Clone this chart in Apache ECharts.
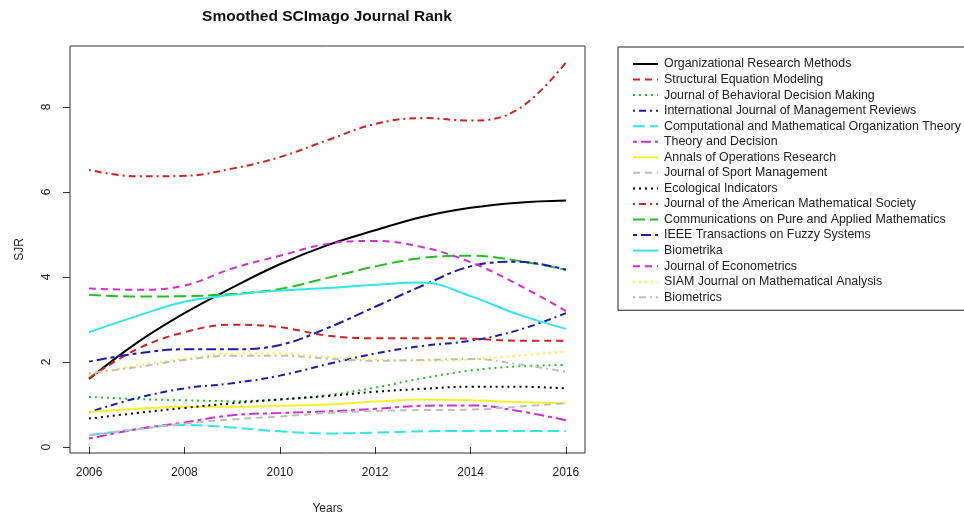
<!DOCTYPE html>
<html>
<head>
<meta charset="utf-8">
<script src="https://cdn.jsdelivr.net/npm/echarts@6/dist/echarts.min.js"></script>
<style>
html,body{margin:0;padding:0;background:#fff;}
#chart{width:964px;height:518px;}
</style>
</head>
<body>
<div id="chart"></div>
<script>
var years = [2006, 2007, 2008, 2009, 2010, 2011, 2012, 2013, 2014, 2015, 2016];
var yTicks = [0, 2, 4, 6, 8];
var xTicks = [2006, 2008, 2010, 2012, 2014, 2016];

var journalNames = [
  "Organizational Research Methods",
  "Structural Equation Modeling",
  "Journal of Behavioral Decision Making",
  "International Journal of Management Reviews",
  "Computational and Mathematical Organization Theory",
  "Theory and Decision",
  "Annals of Operations Research",
  "Journal of Sport Management",
  "Ecological Indicators",
  "Journal of the American Mathematical Society",
  "Communications on Pure and Applied Mathematics",
  "IEEE Transactions on Fuzzy Systems",
  "Biometrika",
  "Journal of Econometrics",
  "SIAM Journal on Mathematical Analysis",
  "Biometrics"
];

var orm      = [1.60, 2.45, 3.15, 3.75, 4.30, 4.75, 5.10, 5.42, 5.63, 5.75, 5.80];
var sem      = [1.62, 2.30, 2.70, 2.88, 2.82, 2.62, 2.56, 2.56, 2.55, 2.50, 2.50];
var jbdm     = [1.18, 1.13, 1.10, 1.08, 1.12, 1.22, 1.40, 1.62, 1.80, 1.90, 1.93];
var ijmr     = [0.82, 1.15, 1.38, 1.50, 1.68, 1.95, 2.20, 2.38, 2.50, 2.75, 3.15];
var cmot     = [0.28, 0.42, 0.52, 0.46, 0.37, 0.32, 0.34, 0.37, 0.38, 0.38, 0.38];
var td       = [0.20, 0.42, 0.58, 0.75, 0.80, 0.84, 0.90, 0.97, 0.98, 0.85, 0.63];
var aor      = [0.82, 0.90, 0.95, 0.95, 0.97, 1.00, 1.07, 1.12, 1.10, 1.06, 1.03];
var jsm      = [0.28, 0.42, 0.55, 0.65, 0.72, 0.80, 0.85, 0.87, 0.88, 0.95, 1.03];
var ecolInd  = [0.67, 0.80, 0.92, 1.03, 1.12, 1.20, 1.30, 1.37, 1.42, 1.42, 1.38];
var jams     = [6.52, 6.37, 6.38, 6.55, 6.82, 7.22, 7.60, 7.74, 7.68, 7.95, 9.05];
var cpam     = [3.58, 3.54, 3.55, 3.60, 3.72, 3.98, 4.25, 4.45, 4.50, 4.38, 4.17];
var ieee     = [2.01, 2.20, 2.30, 2.30, 2.40, 2.80, 3.30, 3.80, 4.25, 4.36, 4.17];
var biometrika = [2.70, 3.08, 3.42, 3.58, 3.68, 3.74, 3.82, 3.87, 3.55, 3.12, 2.78];
var econometrics = [3.73, 3.70, 3.80, 4.20, 4.50, 4.78, 4.85, 4.70, 4.35, 3.82, 3.20];
var siam     = [1.68, 1.92, 2.08, 2.20, 2.20, 2.12, 2.06, 2.03, 2.06, 2.15, 2.25];
var biometrics = [1.74, 1.88, 2.05, 2.15, 2.15, 2.08, 2.03, 2.05, 2.07, 1.95, 1.77];

var seriesValues = [orm, sem, jbdm, ijmr, cmot, td, aor, jsm, ecolInd, jams, cpam, ieee, biometrika, econometrics, siam, biometrics];

// R base palette and line types (cycled)
var palette = ['#000000', '#D42020', '#22C022', '#1A1AB4', '#30E6E6', '#D22FD2', '#F6F22A', '#BEBEBE'];
var ltySolid = 'solid';
var ltyDash = [7, 5];
var ltyDot = [2, 4];
var ltyDotDash = [2, 4, 7, 4];
var ltyLongDash = [12, 5];
var ltyTwoDash = [4, 4, 10, 4];
var ltys = [ltySolid, ltyDash, ltyDot, ltyDotDash, ltyLongDash, ltyTwoDash];

var series = journalNames.map(function (name, i) {
  var vals = seriesValues[i];
  return {
    name: name,
    type: 'line',
    smooth: 0.4,
    symbol: 'none',
    showSymbol: false,
    animation: false,
    data: years.map(function (y, k) { return [y, vals[k]]; }),
    lineStyle: { color: palette[i % 8], width: 2, type: ltys[i % 6] },
    itemStyle: { color: palette[i % 8] }
  };
});

var chart = echarts.init(document.getElementById('chart'), null, { renderer: 'canvas' });
chart.setOption({
  animation: false,
  backgroundColor: '#ffffff',
  textStyle: { fontFamily: 'Liberation Sans, Arial, sans-serif' },
  grid: {
    left: 70, top: 46, width: 515, height: 407,
    outerBoundsMode: 'none', containLabel: false,
    show: true, borderColor: '#333333', borderWidth: 1, backgroundColor: 'transparent'
  },
  xAxis: {
    type: 'value',
    min: 2005.6, max: 2016.4,
    name: 'Years', nameLocation: 'middle', nameGap: 50,
    nameTextStyle: { fontSize: 12, color: '#222', fontFamily: 'Liberation Sans, Arial' },
    axisLine: { show: false },
    splitLine: { show: false },
    axisTick: { show: true, inside: false, length: 7, lineStyle: { color: '#333' }, customValues: xTicks },
    axisLabel: { show: true, margin: 14, fontSize: 12, color: '#222', fontFamily: 'Liberation Sans, Arial', customValues: xTicks, formatter: function (v) { return String(v); } }
  },
  yAxis: {
    type: 'value',
    min: -0.14, max: 9.435,
    name: 'SJR', nameLocation: 'middle', nameGap: 44, nameRotate: 90,
    nameTextStyle: { fontSize: 12, color: '#222', fontFamily: 'Liberation Sans, Arial' },
    axisLine: { show: false },
    splitLine: { show: false },
    axisTick: { show: true, inside: false, length: 7, lineStyle: { color: '#333' }, customValues: yTicks },
    axisLabel: { show: true, rotate: 90, margin: 17, fontSize: 12, color: '#222', fontFamily: 'Liberation Sans, Arial', customValues: yTicks }
  },
  legend: {
    orient: 'vertical',
    left: 618, top: 47,
    padding: [11, 30, 7, 14],
    borderColor: '#222', borderWidth: 1,
    itemWidth: 25, itemHeight: 12, itemGap: 3.55,
    align: 'left',
    itemStyle: { opacity: 0 },
    lineStyle: { width: 2 },
    textStyle: { fontSize: 12.4, color: '#222', fontFamily: 'Liberation Sans, Arial', padding: [0, 0, 0, 1] },
    data: journalNames
  },
  graphic: [{
    type: 'text', x: 327, y: 17,
    style: { text: 'Smoothed SCImago Journal Rank', fill: '#111', font: 'bold 15.5px "Liberation Sans", Arial', textAlign: 'center', textVerticalAlign: 'middle' }
  }],
  series: series
});
</script>
</body>
</html>
